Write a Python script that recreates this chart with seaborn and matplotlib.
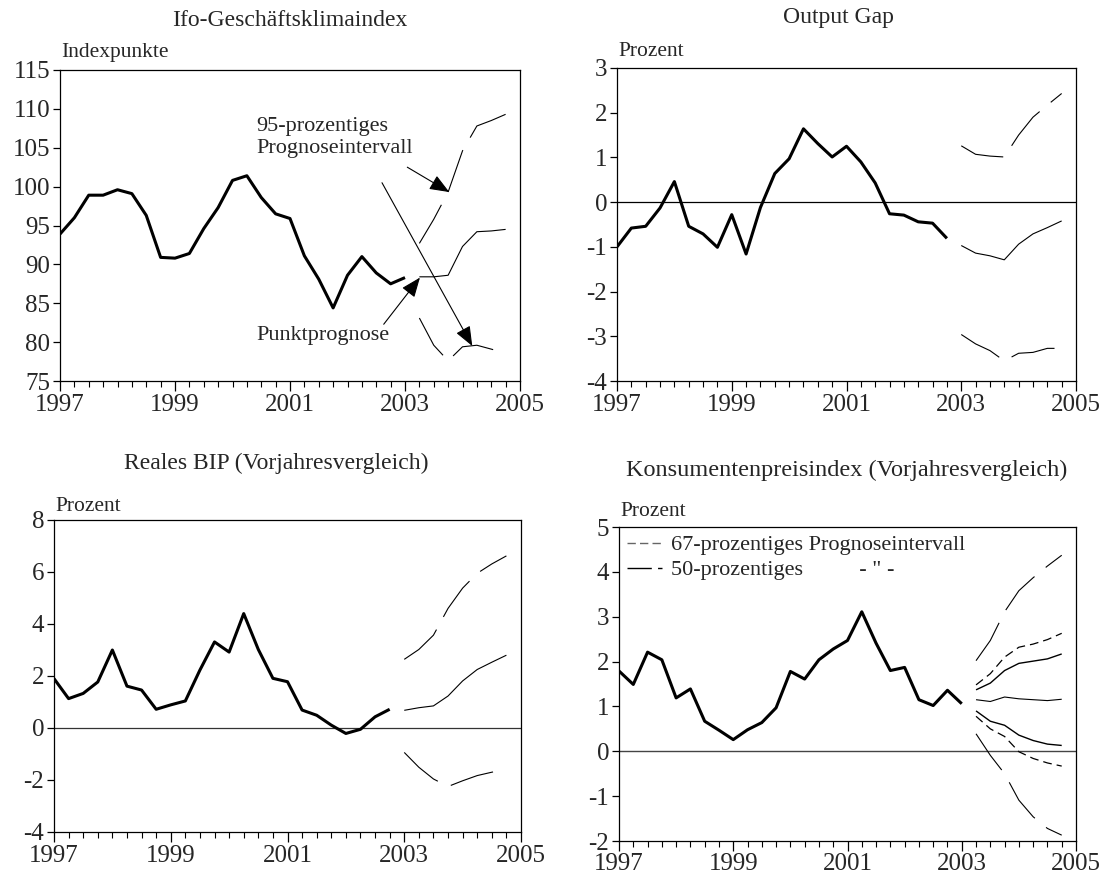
import numpy as np
import pandas as pd
import matplotlib
matplotlib.use("Agg")
import matplotlib.pyplot as plt
import seaborn as sns
from matplotlib.lines import Line2D

# ---------------- data ----------------
# Ifo-Geschäftsklimaindex, quarterly 1997Q1 .. 2003Q1
ifo_hist = [93.9, 96.0, 98.9, 98.9, 99.6, 99.1, 96.3, 90.9, 90.8, 91.4, 94.6, 97.3,
            100.8, 101.4, 98.6, 96.5, 95.9, 91.1, 88.1, 84.4, 88.6, 91.0, 88.9, 87.5, 88.3]
# forecasts 2003Q2 .. 2004Q4
ifo_fc_mid = [88.4, 88.4, 88.6, 92.3, 94.2, 94.3, 94.5]
ifo_fc_hi95 = [92.7, 95.8, 99.3, 104.6, 107.8, 108.5, 109.3]
ifo_fc_lo95 = [83.1, 79.6, 77.6, 79.4, 79.6, 79.1, 78.6]

# Output Gap, quarterly 1997Q1 .. 2002Q4
gap_hist = [-1.00, -0.58, -0.54, -0.13, 0.46, -0.54, -0.71, -1.01, -0.28, -1.16, -0.12, 0.64,
            0.97, 1.64, 1.31, 1.01, 1.25, 0.90, 0.43, -0.26, -0.29, -0.44, -0.47, -0.81]
# forecasts 2003Q1 .. 2004Q4
gap_fc_mid = [-0.97, -1.14, -1.20, -1.29, -0.94, -0.71, -0.57, -0.42]
gap_fc_hi95 = [1.26, 1.07, 1.03, 1.01, 1.50, 1.90, 2.17, 2.43]
gap_fc_lo95 = [-2.96, -3.17, -3.32, -3.55, -3.38, -3.36, -3.27, -3.27]

# Reales BIP (Vorjahresvergleich), quarterly 1997Q1 .. 2002Q4
bip_hist = [1.90, 1.13, 1.33, 1.77, 3.00, 1.61, 1.46, 0.72, 0.89, 1.04, 2.23, 3.31,
            2.92, 4.40, 3.02, 1.91, 1.78, 0.69, 0.49, 0.11, -0.21, -0.05, 0.43, 0.72]
# forecasts 2003Q1 .. 2004Q4
bip_fc_mid = [0.68, 0.78, 0.85, 1.23, 1.81, 2.25, 2.53, 2.80]
bip_fc_hi95 = [2.64, 3.02, 3.57, 4.60, 5.38, 5.95, 6.31, 6.62]
bip_fc_lo95 = [-0.94, -1.51, -1.96, -2.25, -2.03, -1.83, -1.70, -1.60]

# Konsumentenpreisindex (Vorjahresvergleich), quarterly 1997Q1 .. 2003Q1
cpi_hist = [1.79, 1.49, 2.21, 2.04, 1.19, 1.39, 0.67, 0.47, 0.26, 0.48, 0.64, 0.97,
            1.78, 1.61, 2.04, 2.28, 2.47, 3.11, 2.41, 1.80, 1.87, 1.15, 1.02, 1.36, 1.06]
# forecasts 2003Q2 .. 2004Q4
cpi_fc_mid = [1.15, 1.11, 1.21, 1.17, 1.15, 1.13, 1.16]
cpi_fc_hi50 = [1.37, 1.52, 1.80, 1.96, 2.01, 2.06, 2.17]
cpi_fc_lo50 = [0.90, 0.67, 0.58, 0.36, 0.24, 0.16, 0.13]
cpi_fc_hi67 = [1.48, 1.73, 2.10, 2.32, 2.39, 2.49, 2.63]
cpi_fc_lo67 = [0.78, 0.50, 0.33, -0.01, -0.16, -0.26, -0.33]
cpi_fc_hi95 = [2.02, 2.47, 3.11, 3.58, 3.87, 4.13, 4.37]
cpi_fc_lo95 = [0.39, -0.09, -0.50, -1.09, -1.46, -1.72, -1.87]

year_labels = ["1997", "1999", "2001", "2003", "2005"]
titles = ["Ifo-Geschäftsklimaindex", "Output Gap",
          "Reales BIP (Vorjahresvergleich)", "Konsumentenpreisindex (Vorjahresvergleich)"]
units = ["Indexpunkte", "Prozent", "Prozent", "Prozent"]
legend_labels = ["67-prozentiges Prognoseintervall", '50-prozentiges          - " -']


def qpos(first_quarter, values):
    """Numeric time position (year + quarter fraction) for each value."""
    p = pd.period_range(first_quarter, periods=len(values), freq="Q")
    return p.year + (p.quarter - 1) / 4.0


# ---------------- style ----------------
sns.set_theme(style="ticks")
plt.rcParams["font.family"] = ["Liberation Serif", "DejaVu Serif"]
plt.rcParams["axes.unicode_minus"] = False
plt.rcParams["lines.solid_capstyle"] = "butt"

W, H = 1102, 876
fig = plt.figure(figsize=(W / 100, H / 100), dpi=100)
fig.patch.set_facecolor("white")


def add_ax(l, t, r, b):
    return fig.add_axes([l / W, 1 - b / H, (r - l) / W, (b - t) / H])


ax1 = add_ax(60, 70, 520, 381)
ax2 = add_ax(617, 68, 1076, 381)
ax3 = add_ax(54, 520, 521, 832)
ax4 = add_ax(619, 527, 1076, 841)

HIST_LW = 2.2
THIN = 0.8
LONGDASH = (0, (40, 13))
SHORTDASH = (0, (7, 4))
TICK_FS = 18


def line(ax, first_q, vals, lw=THIN, ls="-", color="black"):
    x = qpos(first_q, vals)
    sns.lineplot(x=np.asarray(x, dtype=float), y=vals, ax=ax, color=color, lw=lw,
                 linestyle=ls, estimator=None, errorbar=None, sort=False, legend=False)


def style(ax, ylim, yticks):
    ax.set_facecolor("white")
    ax.set_xlim(1997, 2005)
    ax.set_ylim(*ylim)
    ax.set_xticks([1997, 1999, 2001, 2003, 2005])
    ax.set_xticklabels(year_labels)
    ax.set_xticks(np.arange(1997, 2005.001, 0.25), minor=True)
    ax.set_yticks(yticks)
    ax.set_yticklabels([str(v) for v in yticks])
    ax.tick_params(axis="x", which="major", length=7, width=0.9, direction="out",
                   labelsize=TICK_FS, pad=2, color="black")
    ax.tick_params(axis="x", which="minor", length=4, width=0.8, direction="out", color="black")
    ax.tick_params(axis="y", which="major", length=5, width=0.9, direction="out",
                   labelsize=TICK_FS, pad=2, color="black")
    for s in ax.spines.values():
        s.set_visible(True)
        s.set_linewidth(0.9)
        s.set_color("black")
    ax.set_xlabel("")
    ax.set_ylabel("")
    ax.grid(False)


# ---- Panel 1: Ifo ----
line(ax1, "1997Q1", ifo_hist, lw=HIST_LW)
line(ax1, "2003Q2", ifo_fc_mid)
line(ax1, "2003Q2", ifo_fc_hi95, ls=LONGDASH)
line(ax1, "2003Q2", ifo_fc_lo95, ls=LONGDASH)
style(ax1, (75, 115), list(range(75, 116, 5)))

arrow_kw = dict(arrowstyle="-|>,head_length=0.55,head_width=0.22", color="black",
                lw=0.8, mutation_scale=22, shrinkA=0, shrinkB=0)
ax1.text(2000.42, 106.3, "95-prozentiges\nPrognoseintervall", fontsize=16,
         ha="left", va="center", linespacing=1.25)
ax1.annotate("", xy=(2003.77, 99.3), xytext=(2003.04, 102.5), arrowprops=arrow_kw)
ax1.annotate("", xy=(2004.17, 79.5), xytext=(2002.60, 100.5), arrowprops=arrow_kw)
ax1.text(2000.42, 80.9, "Punktprognose", fontsize=16, ha="left", va="center")
ax1.annotate("", xy=(2003.26, 88.3), xytext=(2002.63, 82.3), arrowprops=arrow_kw)

# ---- Panel 2: Output Gap ----
ax2.axhline(0, color="black", lw=0.9)
line(ax2, "1997Q1", gap_hist, lw=HIST_LW)
line(ax2, "2003Q1", gap_fc_mid)
line(ax2, "2003Q1", gap_fc_hi95, ls=LONGDASH)
line(ax2, "2003Q1", gap_fc_lo95, ls=LONGDASH)
style(ax2, (-4, 3), list(range(-4, 4)))

# ---- Panel 3: Reales BIP ----
ax3.axhline(0, color="#333333", lw=0.9)
line(ax3, "1997Q1", bip_hist, lw=HIST_LW)
line(ax3, "2003Q1", bip_fc_mid)
line(ax3, "2003Q1", bip_fc_hi95, ls=LONGDASH)
line(ax3, "2003Q1", bip_fc_lo95, ls=LONGDASH)
style(ax3, (-4, 8), list(range(-4, 9, 2)))

# ---- Panel 4: CPI ----
ax4.axhline(0, color="#444444", lw=1.0)
line(ax4, "1997Q1", cpi_hist, lw=HIST_LW)
line(ax4, "2003Q2", cpi_fc_mid)
line(ax4, "2003Q2", cpi_fc_hi50, lw=1.0)
line(ax4, "2003Q2", cpi_fc_lo50, lw=1.0)
line(ax4, "2003Q2", cpi_fc_hi67, lw=0.9, ls=SHORTDASH)
line(ax4, "2003Q2", cpi_fc_lo67, lw=0.9, ls=SHORTDASH)
line(ax4, "2003Q2", cpi_fc_hi95, ls=LONGDASH)
line(ax4, "2003Q2", cpi_fc_lo95, ls=LONGDASH)
style(ax4, (-2, 5), list(range(-2, 6)))

handles = [Line2D([], [], color="#666666", lw=1.0, ls=(0, (6, 3))),
           Line2D([], [], color="black", lw=1.0, ls=(0, (17.5, 4.5, 3.6, 50)))]
ax4.legend(handles=handles, labels=legend_labels, loc="upper left", frameon=False,
           fontsize=16, handlelength=1.6, handletextpad=0.4, borderaxespad=0.25,
           borderpad=0.1, labelspacing=0.2)

# ---- titles and unit labels ----
def ftext(x, y, s, size, ha="center"):
    fig.text(x / W, 1 - y / H, s, fontsize=size, ha=ha, va="center")


ftext(290, 20, titles[0], 17)
ftext(838, 18, titles[1], 17)
ftext(276, 463, titles[2], 17)
ftext(847, 470, titles[3], 17.5)

ftext(61, 52, units[0], 15.5, ha="left")
ftext(618, 52, units[1], 15.5, ha="left")
ftext(55, 506, units[2], 15.5, ha="left")
ftext(620, 511, units[3], 15.5, ha="left")

fig.savefig("out.png", dpi=100, facecolor="white")
